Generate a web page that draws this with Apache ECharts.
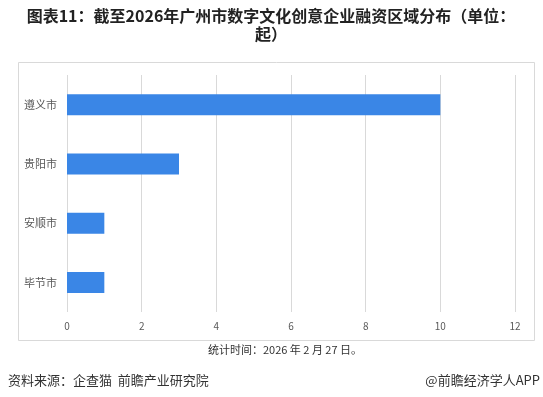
<!DOCTYPE html>
<html>
<head>
<meta charset="utf-8">
<script src="https://cdn.jsdelivr.net/npm/echarts@6/dist/echarts.min.js"></script>
<style>
  html, body { margin: 0; padding: 0; background: #fff; }
  #chart { width: 543px; height: 397px; }
</style>
</head>
<body>
<div id="chart"></div>
<script>
const cities = ["遵义市", "贵阳市", "安顺市", "毕节市"];
const counts = [10, 3, 1, 1];
const xTicks = [0, 2, 4, 6, 8, 10, 12];

const font = "'Noto Sans CJK SC', 'Microsoft YaHei', sans-serif";
const chart = echarts.init(document.getElementById("chart"));

chart.setOption({
  backgroundColor: "#fff",
  grid: {
    left: 67,
    right: 28,
    top: 75,
    bottom: 85,
  },
  xAxis: {
    type: "value",
    min: xTicks[0],
    max: xTicks[xTicks.length - 1],
    interval: 2,
    axisLine: { show: false },
    axisTick: { show: false },
    axisLabel: {
      color: "#595959",
      fontSize: 10,
      fontFamily: font,
      margin: 9,
    },
    splitLine: {
      lineStyle: { color: "#d9d9d9", width: 1 },
    },
  },
  yAxis: {
    type: "category",
    inverse: true,
    data: cities,
    axisLine: { show: false },
    axisTick: { show: false },
    axisLabel: {
      color: "#595959",
      fontSize: 11,
      fontFamily: font,
      margin: 10,
    },
  },
  series: [
    {
      type: "bar",
      data: counts,
      barWidth: 21,
      itemStyle: { color: "#3a86e6" },
    },
  ],
  graphic: [
    // title, wrapped like the original
    {
      type: "text",
      x: 271,
      y: 16,
      style: {
        text: "图表11：截至2026年广州市数字文化创意企业融资区域分布（单位：",
        fill: "#222",
        font: "bold 16px " + font,
        align: "center",
        verticalAlign: "middle",
      },
    },
    {
      type: "text",
      x: 271,
      y: 34,
      style: {
        text: "起）",
        fill: "#222",
        font: "bold 16px " + font,
        align: "center",
        verticalAlign: "middle",
      },
    },
    {
      type: "rect",
      shape: { x: 18.5, y: 62.5, width: 516, height: 278 },
      style: { fill: "none", stroke: "#d9d9d9", lineWidth: 1 },
      z: -1,
    },
    {
      type: "text",
      x: 285,
      y: 350,
      style: {
        text: "统计时间：2026 年 2 月 27 日。",
        fill: "#333",
        font: "11px " + font,
        align: "center",
        verticalAlign: "middle",
      },
    },
    {
      type: "text",
      x: 8,
      y: 380,
      style: {
        text: "资料来源：企查猫  前瞻产业研究院",
        fill: "#333",
        font: "13px " + font,
        verticalAlign: "middle",
      },
    },
    {
      type: "text",
      x: 540,
      y: 380,
      style: {
        text: "@前瞻经济学人APP",
        fill: "#333",
        font: "13px " + font,
        align: "right",
        verticalAlign: "middle",
      },
    },
  ],
});
</script>
</body>
</html>
